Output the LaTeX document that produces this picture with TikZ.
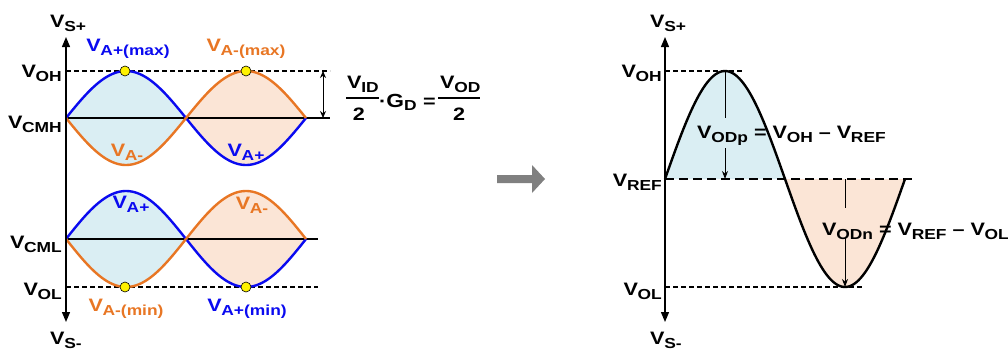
\documentclass[tikz,border=0pt]{standalone}
\usepackage{fontspec}
\setmainfont[FakeStretch=1.2]{Liberation Sans}
\usetikzlibrary{arrows.meta}
\definecolor{cblue}{RGB}{10,10,240}
\definecolor{corange}{RGB}{232,118,36}
\definecolor{fblue}{RGB}{218,238,243}
\definecolor{forange}{RGB}{251,229,214}
\definecolor{arrgray}{RGB}{128,128,128}
\newcommand\VV[1]{V\kern-0.3pt\raisebox{-4pt}{\fontsize{14.5}{15}\selectfont #1}}
\begin{document}
\begin{tikzpicture}[x=1pt,y=-1pt,
  lab/.style={inner sep=0pt,font=\fontsize{18}{20}\selectfont\bfseries},
  axis/.style={line width=1.3pt,{Triangle[width=8pt,length=10pt]}-{Triangle[width=8pt,length=10pt]}},
  wave/.style={line width=2.4pt},
  hline/.style={line width=1.6pt},
  dline/.style={line width=1.6pt,dash pattern=on 5pt off 3pt},
  ydot/.style={circle,fill=yellow,draw=black,line width=0.6pt,minimum size=10pt,inner sep=0pt},
  meas/.style={line width=0.9pt},
  tip/.style={-{Stealth[length=8pt,width=6pt]}}]
\useasboundingbox (0,0) rectangle (1008,351);

% ===== LEFT DIAGRAM =====
\fill[fblue] plot[domain=66:186,samples=60] (\x,{118-47*sin(1.5*(\x-66))}) -- plot[domain=186:66,samples=60] (\x,{118+47*sin(1.5*(\x-66))}) -- cycle;
\fill[forange] plot[domain=186:306,samples=60] (\x,{118-47*sin(1.5*(\x-66))}) -- plot[domain=306:186,samples=60] (\x,{118+47*sin(1.5*(\x-66))}) -- cycle;
\fill[fblue] plot[domain=66:186,samples=60] (\x,{239-48*sin(1.5*(\x-66))}) -- plot[domain=186:66,samples=60] (\x,{239+48*sin(1.5*(\x-66))}) -- cycle;
\fill[forange] plot[domain=186:306,samples=60] (\x,{239-48*sin(1.5*(\x-66))}) -- plot[domain=306:186,samples=60] (\x,{239+48*sin(1.5*(\x-66))}) -- cycle;

\coordinate (lOHa) at (66,71);  \coordinate (lOHb) at (330,71);
\coordinate (lCMHa) at (66,118); \coordinate (lCMHb) at (330,118);
\coordinate (lCMLa) at (66,239); \coordinate (lCMLb) at (318,239);
\coordinate (lOLa) at (66,287); \coordinate (lOLb) at (318,287);
\draw[dline] (lOHa) -- (lOHb);
\draw[hline] (lCMHa) -- (lCMHb);
\draw[hline] (lCMLa) -- (lCMLb);
\draw[dline] (lOLa) -- (lOLb);

\draw[wave,cblue] plot[domain=66:306,samples=120] (\x,{118-47*sin(1.5*(\x-66))});
\draw[wave,corange] plot[domain=66:306,samples=120] (\x,{118+47*sin(1.5*(\x-66))});
\draw[wave,cblue] plot[domain=66:306,samples=120] (\x,{239-48*sin(1.5*(\x-66))});
\draw[wave,corange] plot[domain=66:306,samples=120] (\x,{239+48*sin(1.5*(\x-66))});

\coordinate (lTop) at (66,37); \coordinate (lBot) at (66,322);
\draw[axis] (lTop) -- (lBot);

\node[ydot] (d1) at (125,71) {};
\node[ydot] (d2) at (246,71) {};
\node[ydot] (d3) at (125,287) {};
\node[ydot] (d4) at (246,287) {};

\coordinate (mTop) at (323,71); \coordinate (mBot) at (323,118);
\draw[meas,{Stealth[length=7pt,width=6pt]}-{Stealth[length=7pt,width=6pt]}] (mTop) -- (mBot);

\node[lab,anchor=base west] (lVSp) at (50,27) {\VV{S+}};
\node[lab,anchor=base west] (lVSm) at (50,344) {\VV{S-}};
\node[lab,anchor=base east] (lVOH) at (62,77) {\VV{OH}};
\node[lab,anchor=base east] (lVCMH) at (62,128) {\VV{CMH}};
\node[lab,anchor=base east] (lVCML) at (62,248) {\VV{CML}};
\node[lab,anchor=base east] (lVOL) at (62,295) {\VV{OL}};

\node[lab,cblue,anchor=base] (t1) at (128,51) {\VV{A+(max)}};
\node[lab,corange,anchor=base] (t2) at (246,51) {\VV{A-(max)}};
\node[lab,corange,anchor=base] (t3) at (127,156) {\VV{A-}};
\node[lab,cblue,anchor=base] (t4) at (246,156) {\VV{A+}};
\node[lab,cblue,anchor=base] (t5) at (131,208) {\VV{A+}};
\node[lab,corange,anchor=base] (t6) at (252,209) {\VV{A-}};
\node[lab,corange,anchor=base] (t7) at (126,311) {\VV{A-(min)}};
\node[lab,cblue,anchor=base] (t8) at (247,311) {\VV{A+(min)}};

% equation
\node[lab,anchor=base west] (eNum) at (347,88) {\VV{ID}};
\coordinate (eb1a) at (346,98); \coordinate (eb1b) at (379,98);
\draw[line width=1.6pt] (eb1a) -- (eb1b);
\node[lab,anchor=base] (eDen) at (359,120) {2};
\node[lab,anchor=base west] (eG) at (379,107) {·{\fontsize{19}{20}\selectfont G}\raisebox{-3pt}{\fontsize{14.5}{15}\selectfont D}};
\node[lab,anchor=base west] (eEq) at (423,107) {=};
\node[lab,anchor=base west] (eNum2) at (440,88) {\VV{OD}};
\coordinate (eb2a) at (438,98); \coordinate (eb2b) at (480,98);
\draw[line width=1.6pt] (eb2a) -- (eb2b);
\node[lab,anchor=base] (eDen2) at (459,120) {2};

% gray arrow
\fill[arrgray] (497,175) -- (532,175) -- (532,165) -- (545,179) -- (532,193) -- (532,183) -- (497,183) -- cycle;

% ===== RIGHT DIAGRAM =====
\fill[fblue] plot[domain=665:785,samples=60] (\x,{179-108*sin(1.5*(\x-665))}) -- cycle;
\fill[forange] plot[domain=785:905,samples=60] (\x,{179-108*sin(1.5*(\x-665))}) -- cycle;

\coordinate (rOHa) at (665,71); \coordinate (rOHb) at (743,71);
\coordinate (rREFa) at (665,179); \coordinate (rREFb) at (915,179);
\coordinate (rOLa) at (665,287); \coordinate (rOLb) at (863,287);
\draw[dline] (rOHa) -- (rOHb);
\draw[line width=1.6pt,dash pattern=on 9pt off 5pt] (rREFa) -- (rREFb);
\draw[dline] (rOLa) -- (rOLb);

\draw[wave,black] plot[domain=665:905,samples=120] (\x,{179-108*sin(1.5*(\x-665))});

\coordinate (rTop) at (665,37); \coordinate (rBot) at (665,322);
\draw[axis] (rTop) -- (rBot);

\coordinate (p1) at (725,71); \coordinate (p2) at (725,118);
\coordinate (p3) at (725,148); \coordinate (p4) at (725,179);
\draw[meas] (p1) -- (p2);
\draw[meas,tip] (p3) -- (p4);
\coordinate (n1) at (845,179); \coordinate (n2) at (845,208);
\coordinate (n3) at (845,238); \coordinate (n4) at (845,287);
\draw[meas] (n1) -- (n2);
\draw[meas,tip] (n3) -- (n4);

\node[lab,anchor=base west] (rVSp) at (650,27) {\VV{S+}};
\node[lab,anchor=base west] (rVSm) at (650,344) {\VV{S-}};
\node[lab,anchor=base east] (rVOH) at (662,77) {\VV{OH}};
\node[lab,anchor=base east] (rVREF) at (662,186) {\VV{REF}};
\node[lab,anchor=base east] (rVOL) at (662,295) {\VV{OL}};
\node[lab,anchor=base west] (eqp) at (697,138) {\VV{ODp} = \VV{OH} – \VV{REF}};
\node[lab,anchor=base west] (eqn) at (822,235) {\VV{ODn} = \VV{REF} – \VV{OL}};
\end{tikzpicture}
\end{document}
